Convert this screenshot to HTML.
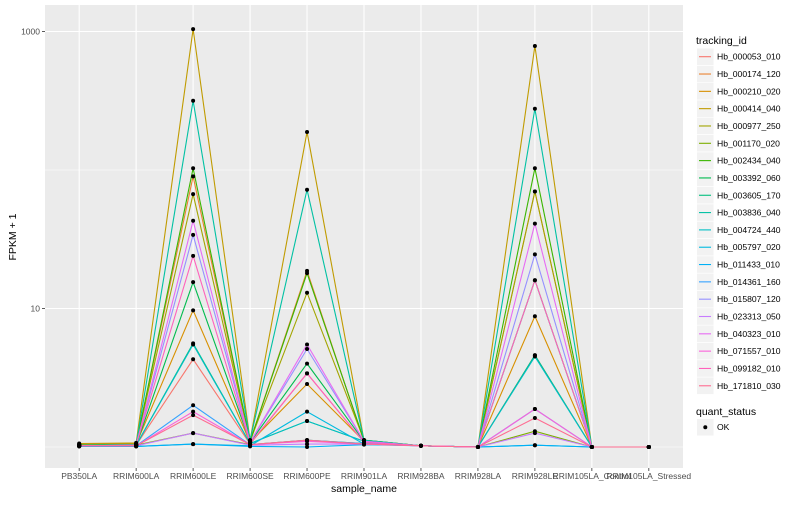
<!DOCTYPE html>
<html><head><meta charset="utf-8"><style>
body{margin:0;background:#fff;font-family:"Liberation Sans",sans-serif}
svg text{font-family:"Liberation Sans",sans-serif}
</style></head><body>
<svg id="c" width="800" height="500" xmlns="http://www.w3.org/2000/svg"></svg>
<script>
const categories=["PB350LA","RRIM600LA","RRIM600LE","RRIM600SE","RRIM600PE","RRIM901LA","RRIM928BA","RRIM928LA","RRIM928LE","RRIM105LA_Control","RRIM105LA_Stressed"];
const seriesNames=["Hb_000053_010","Hb_000174_120","Hb_000210_020","Hb_000414_040","Hb_000977_250","Hb_001170_020","Hb_002434_040","Hb_003392_060","Hb_003605_170","Hb_003836_040","Hb_004724_440","Hb_005797_020","Hb_011433_010","Hb_014361_160","Hb_015807_120","Hb_023313_050","Hb_040323_010","Hb_071557_010","Hb_099182_010","Hb_171810_030"];
const seriesColors=["#F8766D","#EA8331","#D89000","#C09B00","#A3A500","#7CAE00","#39B600","#00BB4E","#00BF7D","#00C1A3","#00BFC4","#00BAE0","#00B0F6","#35A2FF","#9590FF","#C77CFF","#E76BF3","#FA62DB","#FF62BC","#FF6C91"];
const seriesValues=[
[1.03,1.03,4.3,1.05,3.4,1.08,1.02,1,4.6,1,1],
[1.05,1.06,90,1.1,18.7,1.1,1.02,1,70,1,1],
[1.04,1.05,9.7,1.08,2.85,1.1,1.02,1,8.8,1,1],
[1.06,1.07,1040,1.12,188,1.12,1.02,1,786,1,1],
[1.04,1.05,67,1.1,13,1.12,1.02,1,70,1,1],
[1.02,1.03,1.26,1.04,1.12,1.06,1.02,1,1.3,1,1],
[1.03,1.04,103,1.1,18,1.12,1.02,1,103,1,1],
[1.02,1.03,15.5,1.08,4.0,1.1,1.02,1,16,1,1],
[1.02,1.03,5.6,1.06,1.54,1.1,1.02,1,4.6,1,1],
[1.03,1.04,316,1.12,72,1.12,1.02,1,277,1,1],
[1.02,1.03,5.5,1.06,1.54,1.1,1.02,1,4.5,1,1],
[1.01,1.01,1.05,1.02,1.8,1.05,1.02,1,1.03,1,1],
[1.01,1.01,1.05,1.01,1.0,1.04,1.02,1,1.03,1,1],
[1.02,1.02,2.0,1.04,1.12,1.06,1.02,1,1.88,1,1],
[1.02,1.03,34,1.08,5.1,1.1,1.02,1,24.6,1,1],
[1.02,1.02,1.26,1.03,1.05,1.05,1.02,1,1.26,1,1],
[1.02,1.03,43,1.08,5.5,1.1,1.02,1,41,1,1],
[1.02,1.02,1.8,1.04,1.1,1.05,1.02,1,1.88,1,1],
[1.02,1.03,24,1.06,3.4,1.08,1.02,1,16,1,1],
[1.02,1.02,1.7,1.04,1.12,1.05,1.02,1,1.62,1,1]];
const yTicks=[10,1000];
const yTickLabels=["10","1000"];
const yMinor=[1,100];

const svg=document.getElementById('c');const NS="http://www.w3.org/2000/svg";
const P={l:45,r:683,t:5,b:468};
const step=(P.r-P.l)/(categories.length-1+1.2);
const xs=i=>P.l+step*(0.6+i);
const ys=v=>447-138.5*Math.log10(v);
function mk(t,a,parent){const e=document.createElementNS(NS,t);for(const k in a)e.setAttribute(k,a[k]);(parent||svg).appendChild(e);return e;}
const panel=mk('rect',{x:P.l,y:P.t,width:P.r-P.l,height:P.b-P.t,fill:'#ebebeb'});


yMinor.forEach(v=>{const g=mk('line',{x1:P.l,x2:P.r,y1:ys(v),y2:ys(v),stroke:'#fff','stroke-width':0.6});

});
yTicks.forEach((v,i)=>{const g=mk('line',{x1:P.l,x2:P.r,y1:ys(v),y2:ys(v),stroke:'#fff','stroke-width':1.1});


const tk=mk('line',{x1:P.l-3,x2:P.l,y1:ys(v),y2:ys(v),stroke:'#333','stroke-width':0.8});


const t=mk('text',{x:P.l-5,y:ys(v)+3,'text-anchor':'end','font-size':8.5,fill:'#4d4d4d'});t.textContent=yTickLabels[i];

});
categories.forEach((c,i)=>{const g=mk('line',{x1:xs(i),x2:xs(i),y1:P.t,y2:P.b,stroke:'#fff','stroke-width':1.1});


const tk=mk('line',{x1:xs(i),x2:xs(i),y1:P.b,y2:P.b+3,stroke:'#333','stroke-width':0.8});


const t=mk('text',{x:xs(i),y:P.b+11,'text-anchor':'middle','font-size':8.5,fill:'#4d4d4d'});t.textContent=c;

});
seriesValues.forEach((vals,s)=>{const pl=mk('polyline',{points:vals.map((v,i)=>xs(i)+','+ys(v)).join(' '),fill:'none',stroke:seriesColors[s],'stroke-width':1.1});

});
seriesValues.forEach((vals,s)=>{vals.forEach((v,i)=>{const p=mk('circle',{cx:xs(i),cy:ys(v),r:2,fill:'#000'});

});});
let t=mk('text',{x:364,y:492,'text-anchor':'middle','font-size':10.5,fill:'#000'});t.textContent='sample_name';


t=mk('text',{x:0,y:0,transform:'translate(16,237) rotate(-90)','text-anchor':'middle','font-size':10.5,fill:'#000'});t.textContent='FPKM + 1';


t=mk('text',{x:696,y:44,'font-size':10.5,fill:'#000'});t.textContent='tracking_id';


seriesNames.forEach((n,s)=>{const cy=56.7+17.32*s;
const bx=mk('rect',{x:697,y:cy-8.3,width:16.6,height:16.6,fill:'#f2f2f2'});


const ln=mk('line',{x1:699,x2:711,y1:cy,y2:cy,stroke:seriesColors[s],'stroke-width':1.1});


const tx=mk('text',{x:717,y:cy+3,'font-size':8.6,fill:'#000'});tx.textContent=n;

});
t=mk('text',{x:696,y:415,'font-size':10.5,fill:'#000'});t.textContent='quant_status';


const qb=mk('rect',{x:697,y:419,width:16.6,height:16.6,fill:'#f2f2f2'});


const qp=mk('circle',{cx:705.3,cy:427.3,r:2,fill:'#000'});


t=mk('text',{x:717,y:430,'font-size':8.6,fill:'#000'});t.textContent='OK';


</script>
</body></html>
